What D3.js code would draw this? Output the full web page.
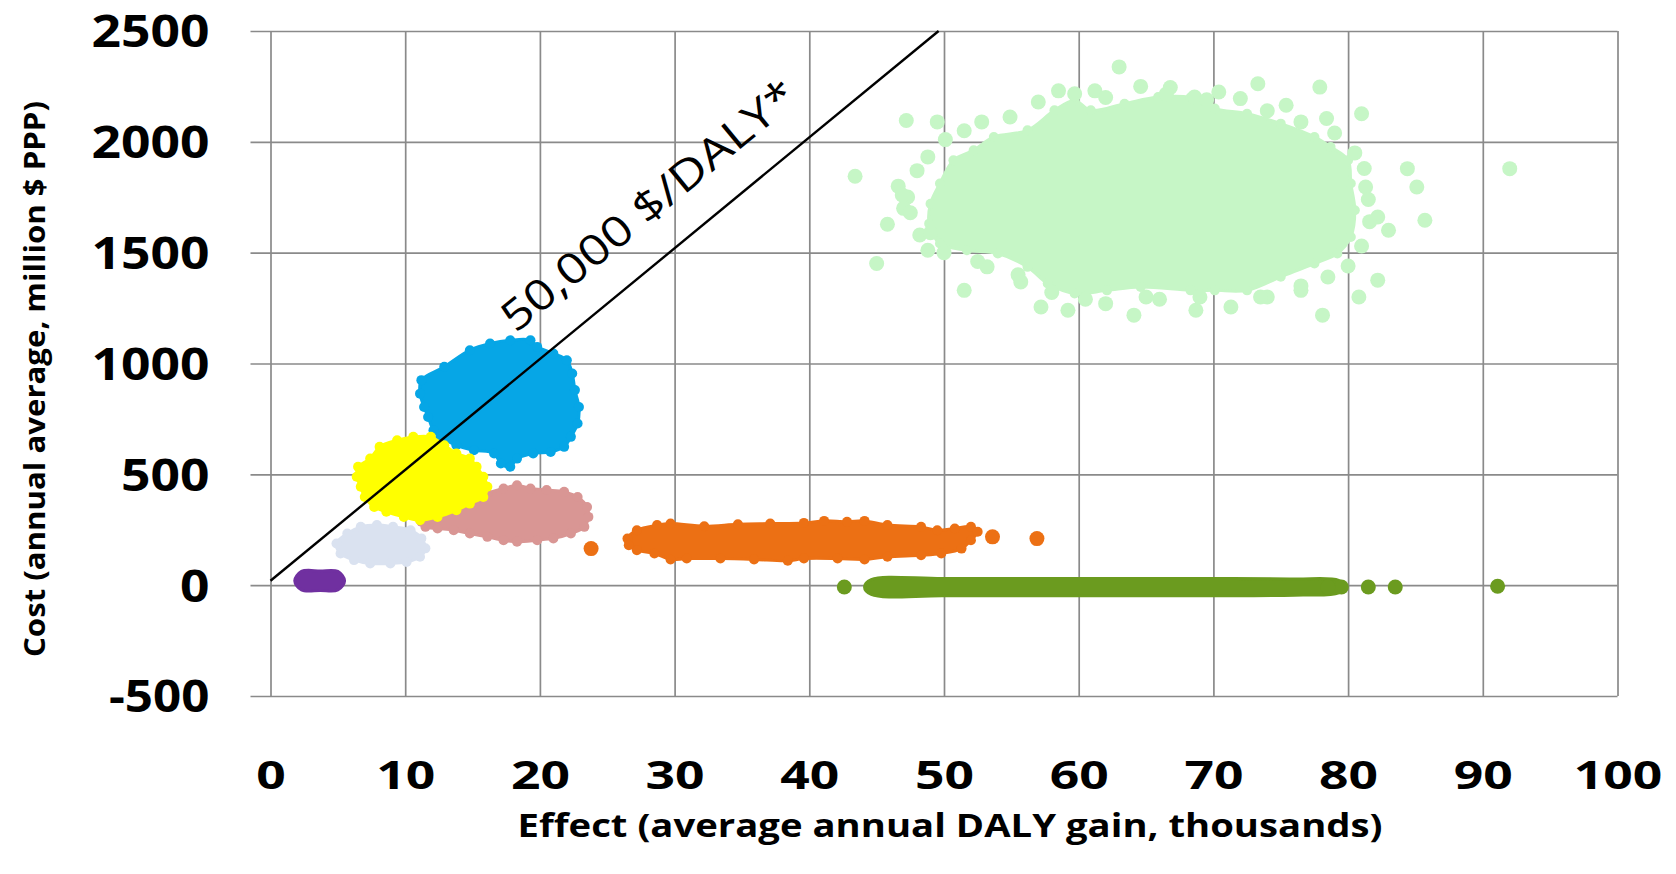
<!DOCTYPE html>
<html>
<head>
<meta charset="utf-8">
<script src="https://cdn.jsdelivr.net/npm/d3@7"></script>
<style>
html, body { margin: 0; padding: 0; background: #fff; }
svg { display: block; font-family: "Open Sans", "Liberation Sans", sans-serif; }
</style>
</head>
<body>
<svg id="chart" width="1676" height="874"></svg>
<script>
// axis ticks
const xTicks = [0, 10, 20, 30, 40, 50, 60, 70, 80, 90, 100];
const yTicks = [-500, 0, 500, 1000, 1500, 2000, 2500];

// 50,000 $/DALY threshold line (effect, cost)
const lineX = [0, 49.6];
const lineY = [20, 2500];

// clouds of simulation results, traced as outlines [effect, cost] + loose points
const lightGreenHull = [[48.9,1631],[49.0,1721],[49.7,1812],[50.7,1917],[52.2,1962],[53.7,2022],[56.2,2052],
  [58.2,2142],[59.7,2187],[60.9,2142],[63.4,2172],[65.9,2202],[68.3,2200],[70.1,2150],[72.5,2127],[75.0,2082],
  [77.5,2022],[78.7,1977],[80.0,1917],[80.2,1812],[80.5,1691],[80.2,1571],[79.2,1496],[77.5,1451],[75.0,1391],
  [72.5,1330],[70.1,1330],[68.3,1330],[64.6,1345],[62.1,1330],[59.7,1316],[57.7,1361],[56.2,1436],[54.0,1496],
  [51.7,1511],[49.7,1541]];
const lightGreenDots = [[43.4,1845],[45.8,1628],[45.0,1451],[49.5,2090],[54.9,2112],[63.0,2338],[47.3,1751],
  [46.6,1800],[47.0,1700],[51.5,1330],[64.1,1218],[57.2,1255],[59.2,1240],[55.7,1368],[48.8,1511],[53.2,1436],
  [59.7,2217],[48.8,1932],[73.3,2262],[77.9,2247],[75.4,2165],[81.0,2127],[78.4,2105],[68.6,2202],[84.4,1879],
  [85.1,1796],[81.3,1796],[85.7,1646],[82.2,1661],[92.0,1879],[82.2,1376],[80.8,1300],[78.1,1218],[71.3,1255],
  [68.7,1240],[83.0,1601],[61.2,2230],[64.6,2250],[70.4,2225],[72.0,2195],[66.8,2245],[47.2,2096],[62.0,1270],
  [66.0,1290],[74.0,1300],[76.5,1330],
  [46.9,1760],[47.5,1680],[48.2,1580],[48.0,1870],[50.1,2010],[51.5,2050],[52.8,2090],[57.0,2180],[58.5,2230],
  [62.0,2200],[66.5,2215],[69.5,2190],[74.0,2140],[76.5,2090],[79.0,2040],[80.5,1950],[81.2,1880],[81.5,1740],
  [81.6,1640],[81.0,1530],[80.0,1440],[78.5,1390],[76.5,1350],[73.5,1300],[69.0,1300],[65.0,1300],[60.5,1290],
  [58.0,1320],[55.5,1400],[52.5,1460],[50.0,1500],[49.0,1590]];

const greenHull = [[44.6,25],[50,30],[60,30],[70,30],[76,28],[79.3,22],[79.8,-5],[79.3,-35],[76,-45],[60,-48],
  [50,-48],[44.6,-42],[44.1,-8]];
const greenDots = [[42.6,-8],[81.5,-8],[83.5,-8],[91.1,-5],[79.5,-8],[78.5,-8]];

const orangeHull = [[26.5,210],[27.2,248],[28.7,271],[29.7,278],[32.2,266],[34.7,275],[37.1,278],[39.6,281],
  [41.1,290],[42.8,286],[44.1,290],[45.8,271],[48.3,263],[49.5,248],[50.8,256],[52.0,263],[52.5,241],[52.0,203],
  [51.3,165],[49.8,143],[48.3,135],[45.8,128],[44.1,116],[42.1,120],[39.6,120],[38.4,110],[35.9,116],[33.4,120],
  [30.9,120],[29.7,116],[28.5,143],[27.2,158],[26.6,180]];
const orangeDots = [[23.8,165],[53.6,218],[56.9,210]];

const pinkHull = [[11.2,286],[12.1,323],[13.4,353],[14.8,383],[16.1,414],[17.3,436],[18.3,451],[19.3,436],
  [20.5,429],[21.8,421],[22.8,398],[23.5,353],[23.6,308],[23.3,263],[22.3,233],[21.0,211],[19.8,203],[18.3,196],
  [17.3,203],[16.1,218],[14.8,233],[13.6,248],[12.4,256],[11.5,263]];
const pinkDots = [];

const grayHull = [[4.9,188],[5.7,233],[6.7,263],[7.9,271],[9.1,263],[10.4,248],[11.2,211],[11.5,166],[11.1,128],
  [10.1,105],[8.9,98],[7.4,98],[6.2,113],[5.2,143]];
const grayDots = [];

const blueHull = [[11.2,925],[12.9,985],[14.8,1060],[16.3,1090],[17.8,1105],[19.3,1105],[19.8,1075],[21.0,1045],
  [22.0,1015],[22.4,955],[22.6,880],[22.9,804],[22.8,729],[22.3,669],[21.8,624],[20.8,601],[19.5,594],[18.3,571],
  [17.8,534],[17.1,549],[16.6,594],[15.1,609],[13.8,631],[12.6,669],[12.1,699],[11.7,759],[11.4,804],[11.1,864]];
const blueDots = [];

const yellowHull = [[6.5,534],[7.4,571],[8.1,624],[9.4,654],[10.6,669],[11.9,669],[12.9,631],[13.8,594],[14.8,571],
  [15.3,534],[15.8,489],[16.1,444],[15.8,398],[14.8,368],[13.8,338],[12.4,308],[11.1,293],[9.9,308],[8.6,331],
  [7.7,353],[7.0,398],[6.7,444],[6.4,489]];
const yellowDots = [];

const purpleHull = [[2.3,62],[3.7,64],[5.0,62],[5.5,20],[5.0,-22],[3.7,-24],[2.3,-22],[1.8,20]];
const purpleDots = [];

const seriesColors = ['#c6f6c6', '#6b9b1f', '#ec7014', '#d99694', '#dae2f0', '#06a6e6', '#ffff00', '#7030a0'];
const rimSizes = [5, 0, 5, 5, 5, 5, 5, 0];

const series = [
  { hull: lightGreenHull, dots: lightGreenDots },
  { hull: greenHull, dots: greenDots },
  { hull: orangeHull, dots: orangeDots },
  { hull: pinkHull, dots: pinkDots },
  { hull: grayHull, dots: grayDots },
  { hull: blueHull, dots: blueDots },
  { hull: yellowHull, dots: yellowDots },
  { hull: purpleHull, dots: purpleDots }
];
series.forEach((s, i) => { s.color = seriesColors[i]; s.rim = rimSizes[i]; });

const svg = d3.select('#chart');
const x = d3.scaleLinear().domain([0, 100]).range([270.5, 1617.5]);
const y = d3.scaleLinear().domain([-500, 2500]).range([696, 31]);
const font = '"Open Sans", "Liberation Sans", sans-serif';
const digitW = 29.5;
const labelLen = d => String(d).replace('-', '').length * digitW + (d < 0 ? 12 : 0);

// horizontal grid + y labels (ticks stick out 20px on the left)
const yAxis = svg.append('g')
  .attr('transform', 'translate(' + (x(0) - 20) + ',0)')
  .call(d3.axisLeft(y).tickValues(yTicks).tickFormat(d => String(d))
    .tickSize(-(x(100) - x(0) + 20)).tickPadding(41));
yAxis.attr('font-family', font);
yAxis.select('.domain').remove();
yAxis.selectAll('line').attr('stroke', '#8a8a8a').attr('stroke-width', 1.7);
yAxis.selectAll('text')
  .attr('font-size', 44).attr('font-weight', 700).attr('fill', '#000')
  .attr('dy', '0.36em')
  .attr('textLength', labelLen).attr('lengthAdjust', 'spacingAndGlyphs');

// vertical grid + x labels
const xAxis = svg.append('g')
  .attr('transform', 'translate(0,' + y(-500) + ')')
  .call(d3.axisBottom(x).tickValues(xTicks).tickFormat(d => String(d))
    .tickSize(-(y(-500) - y(2500))).tickPadding(64));
xAxis.attr('font-family', font);
xAxis.select('.domain').remove();
xAxis.selectAll('line').attr('stroke', '#8a8a8a').attr('stroke-width', 1.7);
xAxis.selectAll('text')
  .attr('font-size', 40).attr('font-weight', 700).attr('fill', '#000')
  .attr('dy', '0.72em')
  .attr('textLength', labelLen).attr('lengthAdjust', 'spacingAndGlyphs');

// clouds: filled outline plus dots on the rim and loose points
const hullLine = d3.line().x(d => x(d[0])).y(d => y(d[1])).curve(d3.curveCatmullRomClosed.alpha(0.5));
const clouds = svg.append('g');
series.forEach(s => {
  const g = clouds.append('g');
  g.append('path').attr('d', hullLine(s.hull))
    .attr('fill', s.color).attr('stroke', s.color).attr('stroke-width', 3).attr('stroke-linejoin', 'round');
  if (s.rim > 0) {
    g.selectAll('circle.rim').data(s.hull).join('circle').attr('class', 'rim')
      .attr('cx', d => x(d[0])).attr('cy', d => y(d[1])).attr('r', s.rim).attr('fill', s.color);
  }
  g.selectAll('circle.pt').data(s.dots).join('circle').attr('class', 'pt')
    .attr('cx', d => x(d[0])).attr('cy', d => y(d[1])).attr('r', 7.5).attr('fill', s.color);
});

// threshold line
svg.append('line')
  .attr('x1', x(lineX[0])).attr('y1', y(lineY[0]))
  .attr('x2', x(lineX[1])).attr('y2', y(lineY[1]))
  .attr('stroke', '#000').attr('stroke-width', 2.4);

// label along the line
const ang = Math.atan2(y(lineY[0]) - y(lineY[1]), x(lineX[1]) - x(lineX[0]));
const lblX = 30.4;
const px = x(lblX), py = y(lineY[0] + (lineY[1] - lineY[0]) * lblX / lineX[1]);
const off = 50;
svg.append('text')
  .attr('transform', 'translate(' + (px - off * Math.sin(ang)) + ',' + (py - off * Math.cos(ang)) + ') rotate(' + (-ang * 180 / Math.PI) + ')')
  .attr('text-anchor', 'middle').attr('dy', '0.36em')
  .attr('font-size', 42).attr('fill', '#000')
  .attr('textLength', 368).attr('lengthAdjust', 'spacingAndGlyphs')
  .text('50,000 $/DALY*');

// axis titles
svg.append('text')
  .attr('x', 950).attr('y', 837)
  .attr('text-anchor', 'middle').attr('font-size', 33).attr('font-weight', 700)
  .attr('textLength', 865).attr('lengthAdjust', 'spacingAndGlyphs')
  .text('Effect (average annual DALY gain, thousands)');

svg.append('text')
  .attr('transform', 'translate(45,379) rotate(-90)')
  .attr('text-anchor', 'middle').attr('font-size', 28).attr('font-weight', 700)
  .attr('textLength', 556).attr('lengthAdjust', 'spacingAndGlyphs')
  .text('Cost (annual average, million $ PPP)');
</script>
</body>
</html>
